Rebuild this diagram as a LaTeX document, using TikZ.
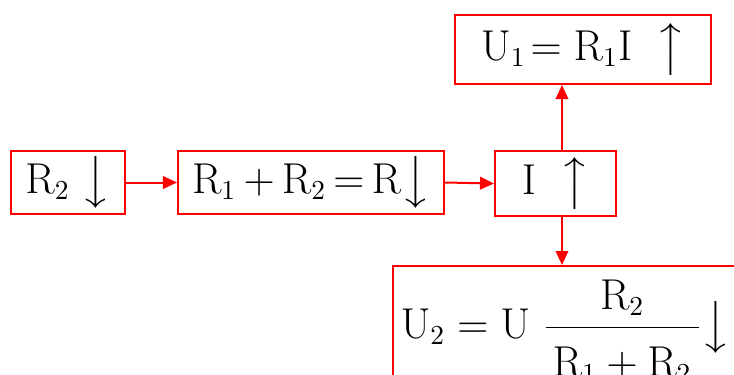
\documentclass[tikz,border=0pt]{standalone}
\usepackage{amsmath}
\usepackage{tikz}
\usetikzlibrary{positioning,arrows.meta}

\newcommand{\dnarrow}{\big\downarrow}
\newcommand{\uparr}{\big\uparrow}

\begin{document}
\begin{tikzpicture}[
    x=0.4pt, y=-0.4pt,
    stagebox/.style={draw=red, line width=0.8pt, fill=white, inner sep=0pt,
                     minimum width=#1, font=\fontsize{16}{19}\selectfont},
    stagebox/.default={40pt},
    eqtext/.style={inner sep=0pt, font=\fontsize{16}{19}\selectfont},
    arr/.style={-{Triangle[length=5.6pt,width=5pt]}, red, line width=0.8pt},
]
\useasboundingbox (0,0) rectangle (734,374);
\clip (0,0) rectangle (734,374);

% ===== BOXES =====
\node[stagebox=45.6pt, minimum height=25.2pt] (rtwo) at (68, 182.5) {$\mathrm{R}_2\ \dnarrow$};
\node[stagebox=106.4pt, minimum height=25.2pt] (rsum) at (311, 182.5)
    {$\mathrm{R}_1\mskip3mu{+}\mskip3mu\mathrm{R}_2\mskip3mu{=}\mskip3mu\mathrm{R}\dnarrow$};
\node[stagebox=48.4pt, minimum height=26pt] (cur) at (555.5, 183.5) {$\mathrm{I}\ \ \uparr$};
\node[stagebox=102.4pt, minimum height=27.6pt] (uone) at (583, 49.5) {$\mathrm{U}_1\!= \mathrm{R}_1\mathrm{I}\ \ \uparr$};
\node[stagebox=160pt, minimum height=56pt] (utwo) at (593, 336) {};
\node[eqtext, anchor=west] (utwoeq) at (400, 331)
    {$\mathrm{U}_2 = \mathrm{U}\ \dfrac{\,\mathrm{R}_2\,}{\rule{0pt}{17pt}\,\mathrm{R}_1 + \mathrm{R}_2\,}\dnarrow$};

% ===== ARROWS =====
\draw[arr] (rtwo.east) -- (rsum.west);
\draw[arr] (rsum.east) -- (cur.west);
\draw[arr] ([xshift=2.6pt]cur.north) -- ([xshift=2.6pt]cur.north |- uone.south);
\draw[arr] ([xshift=2.6pt]cur.south) -- ([xshift=2.6pt]cur.south |- utwo.north);

\end{tikzpicture}
\end{document}
